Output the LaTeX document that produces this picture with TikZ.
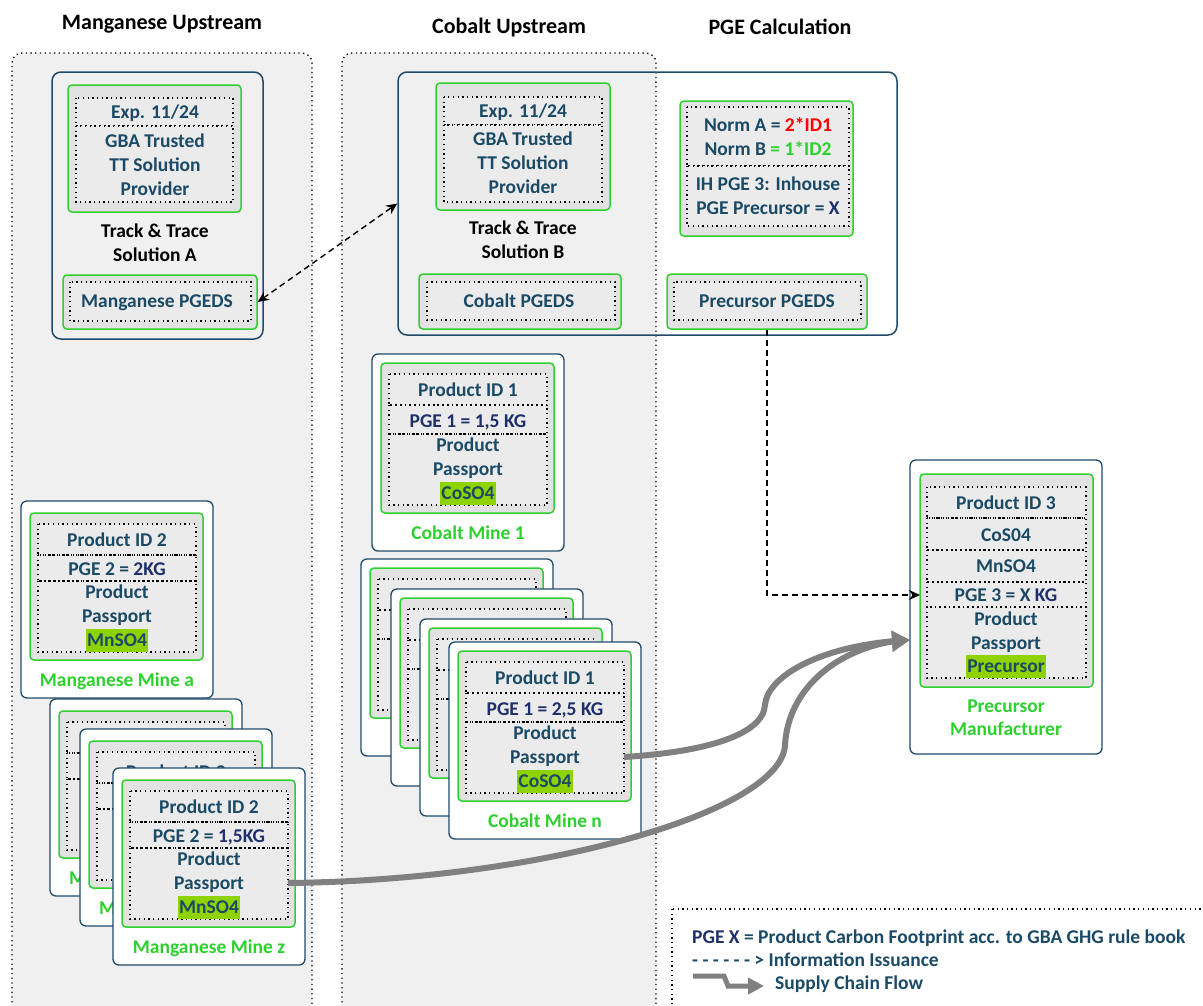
\documentclass[tikz,border=0pt]{standalone}
\usepackage{fontspec}
\setmainfont{Carlito}
\usetikzlibrary{arrows.meta,fit}

\definecolor{tealc}{HTML}{1B4A66}
\definecolor{navyc}{HTML}{1F2F6C}
\definecolor{bordc}{HTML}{1E4B6A}
\definecolor{grn}{HTML}{2DD12D}
\definecolor{hlg}{HTML}{8ED300}
\definecolor{lanef}{HTML}{F0F0F0}
\definecolor{boxf}{HTML}{E2E2E2}
\definecolor{rowf}{HTML}{EBEBEB}
\definecolor{flowc}{HTML}{808080}

\newcommand\bodyfont{\fontsize{19.5}{24}\selectfont\bfseries}
\newcommand\titlefont{\fontsize{22}{26}\selectfont\bfseries}

\tikzset{
  dots/.style={draw=black, line width=1.3pt, dash pattern=on 1.3pt off 3.4pt},
  card/.style={draw=bordc, fill=white, line width=1.3pt, rounded corners=6pt, inner sep=0pt},
  panel/.style={draw=bordc, line width=1.5pt, rounded corners=9pt, inner sep=0pt},
  gbox/.style={draw=grn, fill=boxf, line width=1.5pt, rounded corners=4pt, inner sep=0pt},
  txt/.style={font=\bodyfont, text=tealc, inner sep=0pt, text height=12.5pt, text depth=0pt},
  glbl/.style={txt, text=grn},
  blk/.style={txt, text=black},
  mat/.style={txt, fill=hlg, inner xsep=1pt, minimum height=23pt},
  ttl/.style={font=\titlefont, text=black, inner sep=0pt},
  info/.style={draw=black, line width=1.4pt, dash pattern=on 6pt off 4pt},
  flow/.style={draw=flowc, line width=6pt, -{Triangle[length=18pt,width=20pt]}},
}

% dotted frame with light fill: x1 y1 x2 y2
\newcommand\dotframe[4]{\fill[rowf] (#1,#2) rectangle (#3,#4);\draw[dots] (#1,#2) rectangle (#3,#4);}

% passport card frame: name, x, y, top shift
\newcommand\cardframe[4]{%
  \node[card, fit={(#2,#3) ({#2+192},{#3+197})}] (#1) {};
  \node[gbox, fit={({#2+9},{#3+9+#4}) ({#2+182},{#3+159})}] (#1-g) {};
  \fill[rowf] ({#2+17},{#3+20+#4}) rectangle ({#2+175},{#3+151});
  \draw[dots] ({#2+17},{#3+20+#4}) rectangle ({#2+175},{#3+51+#4});
  \draw[dots] ({#2+17},{#3+51+#4}) rectangle ({#2+175},{#3+80});
  \draw[dots] ({#2+17},{#3+80}) rectangle ({#2+175},{#3+151});
  \coordinate (#1-out) at ({#2+175},{#3+115});
}

% passport card texts: name, x, y, id, pge, material, label, top shift
\newcommand\cardtext[8]{%
  \node[txt] (#1-id) at ({#2+96},{#3+36+#8}) {#4};
  \node[txt] (#1-pge) at ({#2+96},{#3+67+#8/3}) {#5};
  \node[txt] (#1-p1) at ({#2+96},{#3+91}) {Product};
  \node[txt] (#1-p2) at ({#2+96},{#3+115}) {Passport};
  \node[mat] (#1-mat) at ({#2+96},{#3+139}) {#6};
  \node[glbl] (#1-lbl) at ({#2+96},{#3+179}) {#7};
}

\begin{document}
\begin{tikzpicture}[x=1pt, y=-1pt]
\useasboundingbox (0,0) rectangle (1203,1005);
\fill[white] (0,0) rectangle (1203,1005);

\begin{scope}
\clip (0,0) rectangle (1203,1005);
% swim lanes, open at the bottom
\fill[lanef, rounded corners=10pt] (12,53) rectangle (312,1040);
\draw[dots, rounded corners=10pt] (12,1040) -- (12,53) -- (312,53) -- (312,1040);
\fill[lanef, rounded corners=10pt] (342,53) rectangle (656,1040);
\draw[dots, rounded corners=10pt] (342,1040) -- (342,53) -- (656,53) -- (656,1040);
% legend frame
\draw[dots] (672,909) rectangle (1240,1040);
\end{scope}

% lane titles
\node[ttl] (t-mn) at (162,24) {Manganese Upstream};
\node[ttl] (t-co) at (509,28) {Cobalt Upstream};
\node[ttl] (t-pge) at (780,27) {PGE Calculation};

% ---- Track & Trace Solution A
\node[panel, fit={(52,72) (263,339)}] (solA) {};
\node[gbox, fit={(68,85) (241,212)}] (solA-g) {};
\dotframe{76}{98}{233}{126}
\dotframe{76}{126}{233}{202}
\node[txt] (solA-exp) at (155,112) {Exp. 11/24};
\node[txt] (solA-t1) at (155,141) {GBA Trusted};
\node[txt] (solA-t2) at (155,165) {TT Solution};
\node[txt] (solA-t3) at (155,189) {Provider};
\node[blk] (solA-n1) at (155,231) {Track \& Trace};
\node[blk] (solA-n2) at (155,255) {Solution A};
\node[gbox, fit={(63,275) (257,329)}] (mpg) {};
\dotframe{70}{282}{251}{321}
\node[txt] (mpg-t) at (157,301) {Manganese PGEDS};

% ---- Track & Trace Solution B with PGE calculation
\node[panel, fit={(398,72) (897,335)}] (solB) {};
\node[gbox, fit={(436,83) (610,210)}] (solB-g) {};
\dotframe{444}{97}{602}{125}
\dotframe{444}{125}{602}{202}
\node[txt] (solB-exp) at (523,111) {Exp. 11/24};
\node[txt] (solB-t1) at (523,139) {GBA Trusted};
\node[txt] (solB-t2) at (523,163) {TT Solution};
\node[txt] (solB-t3) at (523,187) {Provider};
\node[blk] (solB-n1) at (523,228) {Track \& Trace};
\node[blk] (solB-n2) at (523,252) {Solution B};
\node[gbox, fit={(419,274) (621,329)}] (cpg) {};
\dotframe{427}{282}{615}{320}
\node[txt] (cpg-t) at (519,301) {Cobalt PGEDS};

\node[gbox, fit={(680,101) (853,236)}] (norm) {};
\dotframe{687}{107}{849}{166}
\dotframe{687}{166}{849}{226}
\node[txt] (norm-a) at (768,125) {Norm A = \textcolor{red}{2*ID1}};
\node[txt] (norm-b) at (768,149) {Norm B \textcolor{grn}{= 1*ID2}};
\node[txt] (norm-c) at (768,184) {IH PGE 3: Inhouse};
\node[txt] (norm-d) at (768,208) {PGE Precursor = \textcolor{navyc}{X}};
\node[gbox, fit={(667,274) (867,329)}] (ppg) {};
\dotframe{674}{282}{861}{320}
\node[txt] (ppg-t) at (767,301) {Precursor PGEDS};

% ---- cobalt mines
\cardframe{co1}{372}{354}{0}
\cardtext{co1}{372}{354}{Product ID 1}{\textcolor{navyc}{PGE 1 = 1,5 KG}}{CoSO4}{Cobalt Mine 1}{0}
\cardframe{cob1}{361}{559}{0}
\cardframe{cob2}{391}{589}{0}
\cardframe{cob3}{420}{619}{0}
\cardframe{con}{449}{642}{0}
\cardtext{con}{449}{642}{Product ID 1}{\textcolor{navyc}{PGE 1 = 2,5 KG}}{CoSO4}{Cobalt Mine n}{0}

% ---- manganese mines
\cardframe{mna}{21}{501}{3}
\cardtext{mna}{21}{501}{Product ID 2}{PGE 2 = \textcolor{navyc}{2KG}}{MnSO4}{Manganese Mine a}{3}
\cardframe{mnb1}{50}{699}{3}
\node[glbl, anchor=west] (mnb1-lbl) at (69,878) {M};
\cardframe{mnb2}{80}{729}{3}
\node[txt] (mnb2-id) at (176,772) {Product ID 2};
\node[glbl, anchor=west] (mnb2-lbl) at (99,908) {M};
\cardframe{mnz}{113}{768}{3}
\cardtext{mnz}{113}{768}{Product ID 2}{PGE 2 = \textcolor{navyc}{1,5KG}}{MnSO4}{Manganese Mine z}{3}

% ---- precursor manufacturer
\node[card, fit={(910,460) (1102,754)}] (pc) {};
\node[gbox, fit={(920,474) (1093,687)}] (pc-g) {};
\fill[rowf] (927,487) rectangle (1086,678);
\draw[dots] (927,487) rectangle (1086,518);
\draw[dots] (927,518) rectangle (1086,550);
\draw[dots] (927,550) rectangle (1086,582);
\draw[dots] (927,582) rectangle (1086,607);
\draw[dots] (927,607) rectangle (1086,678);
\node[txt] (pc-id) at (1006,503) {Product ID 3};
\node[txt] (pc-co) at (1006,535) {CoS04};
\node[txt] (pc-mn) at (1006,566) {MnSO4};
\node[txt] (pc-pge) at (1006,595) {PGE 3 = X \textcolor{navyc}{KG}};
\node[txt] (pc-p1) at (1006,619) {Product};
\node[txt] (pc-p2) at (1006,643) {Passport};
\node[mat] (pc-mat) at (1006,666) {Precursor};
\node[glbl] (pc-l1) at (1006,706) {Precursor};
\node[glbl] (pc-l2) at (1006,729) {Manufacturer};
\coordinate (pc-info) at (920,595);
\coordinate (pc-in) at (910,640);

% ---- information issuance
\draw[info, {Stealth[length=11pt,width=10pt]}-{Stealth[length=11pt,width=10pt]}] (mpg.east) -- (solB.west);
\draw[info, -{Stealth[length=11pt,width=10pt]}] (ppg.south) |- (pc-info);

% ---- supply chain flow
\draw[flow] (con-out) .. controls (705,752) and (763,735) .. (765,705)
  .. controls (767,678) and (815,648) .. (895,641) -- (pc-in);
\draw[flow] (mnz-out) .. controls (550,880) and (782,810) .. (785,745)
  .. controls (788,690) and (835,650) .. (895,641) -- (pc-in);

% ---- legend
\node[txt, anchor=west] (lg1) at (692,937) {\textcolor{navyc}{PGE X} = Product Carbon Footprint acc. to GBA GHG rule book};
\node[txt, anchor=west] (lg2) at (692,960) {- - - - - - > Information Issuance};
\node[txt, anchor=west] (lg3) at (775,983) {Supply Chain Flow};
\coordinate (lg-a) at (693,976);
\coordinate (lg-b) at (764,986);
\draw[draw=flowc, line width=5pt, -{Triangle[length=16pt,width=16pt]}] (lg-a) -- ++(31,0) -- ++(4,10) -- (lg-b);
\end{tikzpicture}
\end{document}
